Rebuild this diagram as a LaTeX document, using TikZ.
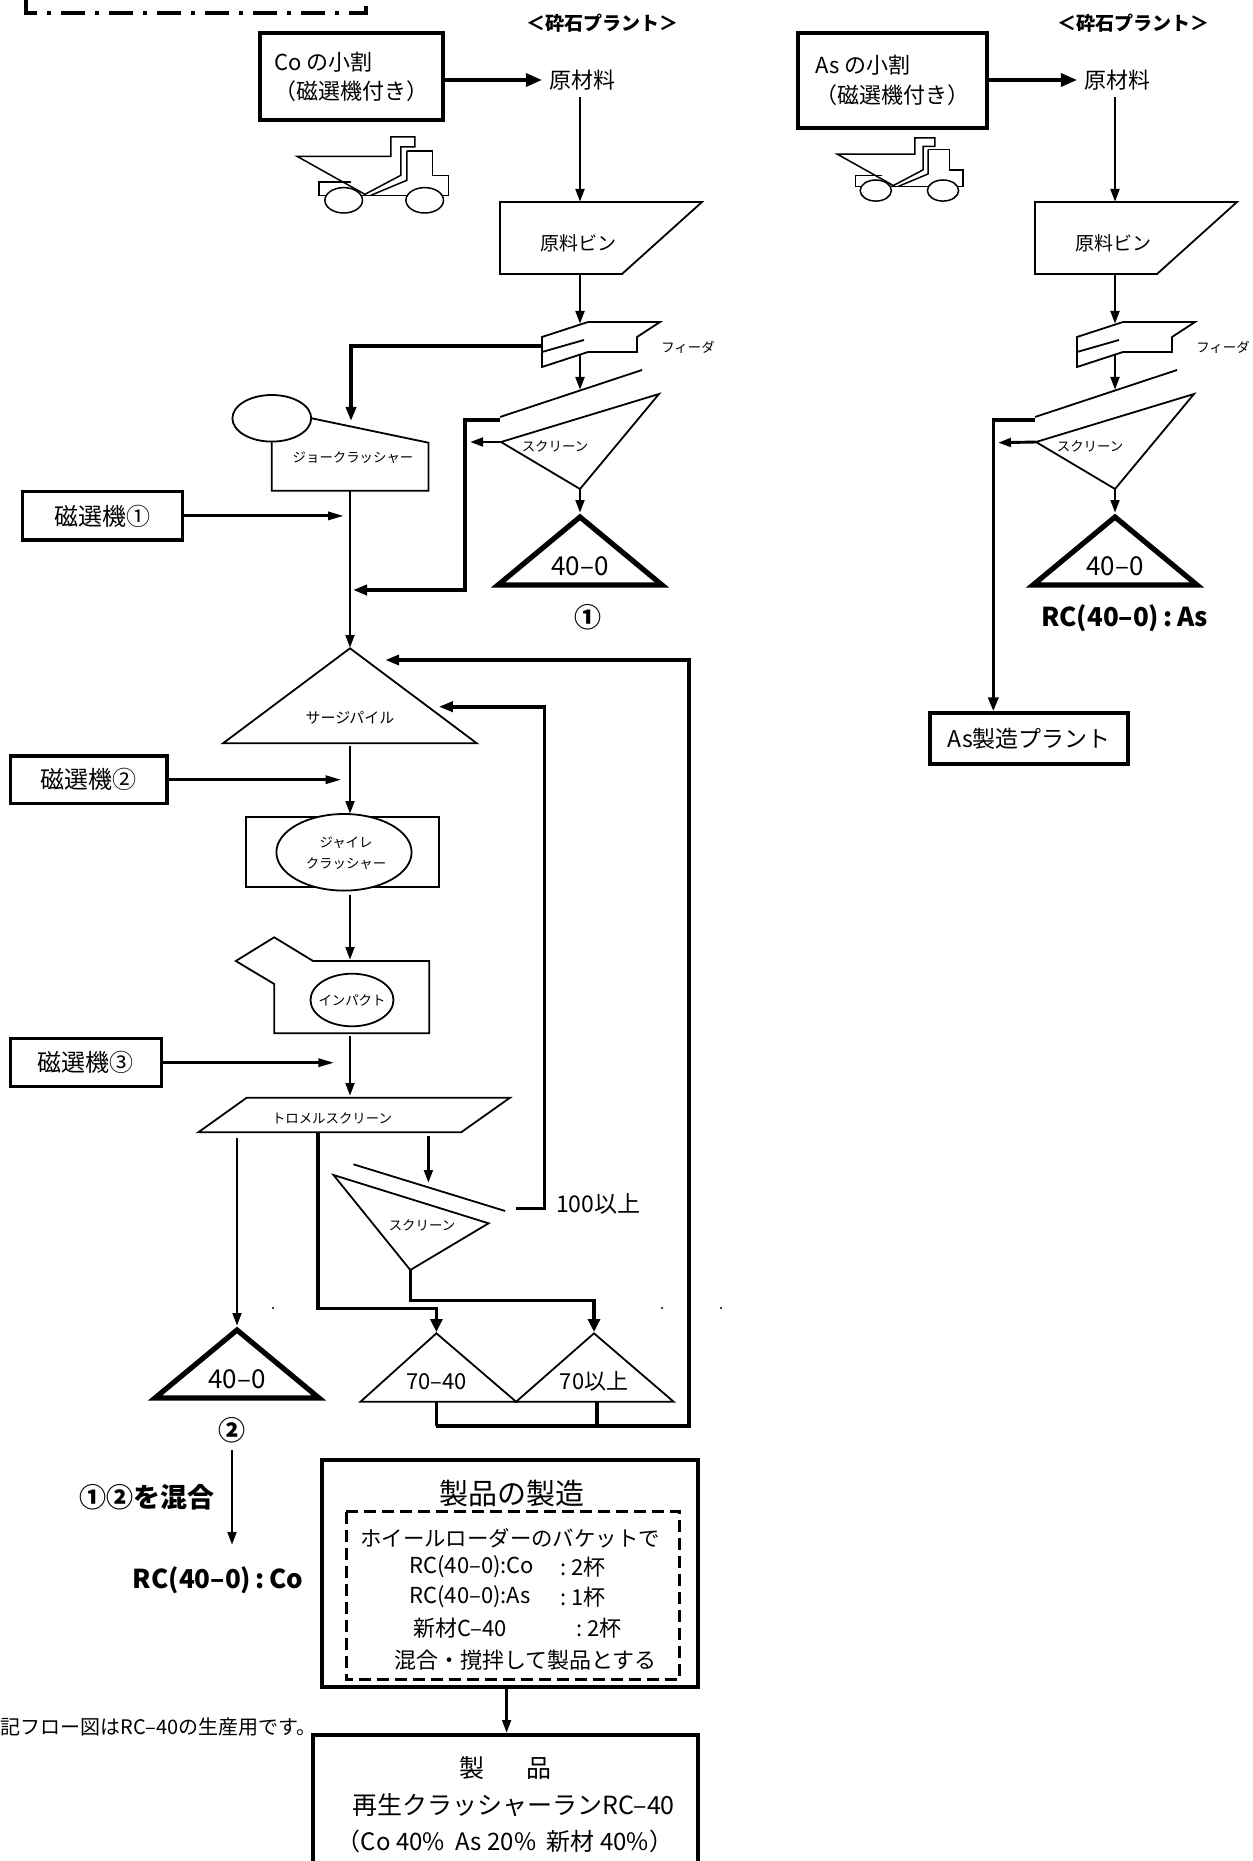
\documentclass[tikz,border=0pt]{standalone}
\usepackage{fontspec}
\setmainfont{Noto Sans CJK JP}
\usetikzlibrary{arrows.meta,positioning}

\newcommand{\fz}[1]{\fontsize{#1}{#1}\selectfont}

\tikzset{
  shp/.style={line width=0.9pt},
  flow/.style={line width=1.45pt,-{Triangle[length=6.5pt,width=4.3pt]}},
  wideflow/.style={line width=1.6pt,-{Triangle[length=6.5pt,width=6pt]}},
  heavy/.style={line width=1.8pt,-{Triangle[length=7pt,width=5pt]}},
  magflow/.style={line width=1.5pt,-{Triangle[length=8pt,width=4pt]}},
  bigflow/.style={line width=1.6pt,-{Triangle[length=8pt,width=6.5pt]}},
  fatline/.style={line width=1.8pt},
  fatbox/.style={draw,line width=2pt,inner sep=0pt},
  magbox/.style={draw,line width=1.6pt,font=\fz{12}},
  tag/.style={font=\fz{6.7},inner sep=0pt},
  rawbin/.pic={
    \draw[shp] (-80,0) -- (122,0) -- (42,72) -- (-80,72) -- cycle;
    \node[font=\fz{9.5}] (-lbl) at (-2,41) {原料ビン};
    \coordinate (-in) at (0,0);
    \coordinate (-out) at (0,72);
  },
  feeder/.pic={
    \draw[shp] (-38,15) -- (8,0) -- (80,0) -- (57,15) -- (57,30) -- (8,30) -- (-38,45) -- cycle;
    \draw[shp] (-38,30) -- (4,18);
    \node[tag] (-lbl) at (108,25) {フィーダ};
    \coordinate (-in) at (0,2);
    \coordinate (-out) at (0,33);
    \coordinate (-side) at (-38,24);
  },
  screen/.pic={
    \draw[shp] (-80,47) -- (62,0);
    \draw[shp] (-79,72) -- (79,24) -- (0,119) -- cycle;
    \node[tag] (-lbl) at (-25,76) {スクリーン};
    \coordinate (-in) at (0,20);
    \coordinate (-over) at (-80,50);
    \coordinate (-left) at (-79,72);
    \coordinate (-out) at (0,119);
  },
  pile/.pic={
    \draw[line width=2.6pt] (0,0) -- (82,68) -- (-82,68) -- cycle;
    \node[font=\fz{13}] (-lbl) at (0,49) {40–0};
    \coordinate (-top) at (0,-4);
  },
  truck/.pic={
    \draw[line width=0.75pt] (0,19.3) -- (93.8,19.3) -- (93.8,0) -- (117.8,0) -- (117.8,10) -- (103.8,10) -- (103.8,38.3) -- (67.9,57.3) -- cycle;
    \draw[line width=0.75pt] (109.8,14) -- (135.7,14) -- (135.7,38.3) -- (151.7,38.3) -- (151.7,58.3) -- (22,58.3) -- (22,45) -- (53.9,45);
    \draw[line width=0.75pt] (109.8,14) -- (109.8,43.3) -- (73.9,58.3);
    \draw[line width=0.75pt,fill=white] (46.7,63.3) ellipse [x radius=18.8,y radius=12.7];
    \draw[line width=0.75pt,fill=white] (127.7,63.3) ellipse [x radius=18.8,y radius=12.7];
  },
}

\begin{document}
\begin{tikzpicture}[x=0.5pt,y=-0.5pt]
  \useasboundingbox (0,0) rectangle (1252,1861);

  \draw[line width=2pt,dash pattern=on 12pt off 5pt on 2pt off 5pt] (26,0) -- (26,13) -- (366,13) -- (366,0);
  \node[font=\bfseries\fz{9.5}] (hdrC) at (602,23) {＜砕石プラント＞};
  \node[font=\bfseries\fz{9.5}] (hdrA) at (1133,23) {＜砕石プラント＞};

  \node[fatbox,minimum width=91.75pt,minimum height=43.5pt,align=left,font=\fontsize{11}{14.5}\selectfont] (coBox) at (351.25,76.5) {Co の小割\\（磁選機付き）};
  \pic at (297,137) {truck};
  \node[font=\fz{11}] (rawC) at (582,80) {原材料};
  \draw[bigflow] (coBox.east |- rawC) -- (rawC.west);

  \pic (binC) at (580,202) {rawbin};
  \pic (feedC) at (580,322) {feeder};
  \pic (scrC) at (580,370) {screen};
  \pic (pileC) at (580,517) {pile};
  \node[font=\bfseries\fz{13.5}] (no1) at (588,617) {①};
  \draw[flow] (rawC.south -| binC-in) -- (binC-in);
  \draw[flow] (binC-out) -- (feedC-in);
  \draw[flow] (feedC-out) -- (scrC-in);
  \draw[flow] (scrC-out) -- (pileC-top);

  \draw[shp] (271.8,418.3) ellipse [x radius=39.4,y radius=23.3];
  \draw[shp] (311.7,418.3) -- (428.4,442.7) -- (428.4,490.7) -- (271.8,490.7) -- (271.8,441.7);
  \node[tag] (jaw) at (353,458) {ジョークラッシャー};
  \coordinate (jawIn) at (351,421);
  \coordinate (jawOut) at (350,491);
  \draw[heavy] (feedC-side) -| (jawIn);

  \coordinate (scrCjoin) at (465,590);
  \coordinate (mainC) at (353,590);
  \coordinate (scrCret) at (470,442);
  \draw[heavy] (scrC-over) -| (scrCjoin) -- (mainC);
  \draw[flow] (scrC-left) -- (scrCret);

  \node[magbox,minimum width=79.9pt,minimum height=24.15pt] (mag1) at (102.7,515.9) {磁選機①};
  \coordinate (mag1to) at (344,515.9);
  \draw[magflow] (mag1) -- (mag1to);

  \draw[shp] (350,648.3) -- (476.8,743.3) -- (223,743.3) -- cycle;
  \node[font=\fz{7.5}] (surge) at (350,718) {サージパイル};
  \coordinate (surgeTop) at (350,648);
  \coordinate (surgeBot) at (350,746);
  \draw[flow] (jawOut) -- (surgeTop);

  \node[magbox,minimum width=78.3pt,minimum height=23.65pt] (mag2) at (88.7,779.7) {磁選機②};
  \coordinate (mag2to) at (341.6,779.7);
  \draw[magflow] (mag2) -- (mag2to);

  \draw[shp] (245.7,816.7) rectangle (438.8,887.3);
  \draw[shp,fill=white] (344,852.3) ellipse [x radius=67.6,y radius=38.3];
  \node[tag,align=center,font=\fontsize{6.7}{10.3}\selectfont] (gyr) at (346,853) {ジャイレ\\クラッシャー};
  \coordinate (gyrIn) at (350,814);
  \coordinate (gyrOut) at (350,895);
  \draw[flow] (surgeBot) -- (gyrIn);

  \draw[shp] (274.2,937.3) -- (235.8,961) -- (274.2,984) -- (274.2,1033.3) -- (429.3,1033.3) -- (429.3,961) -- (313.1,961) -- cycle;
  \draw[shp] (352,1000) ellipse [x radius=41.5,y radius=26.3];
  \node[tag] (imp) at (352,1000) {インパクト};
  \coordinate (impIn) at (350,960);
  \coordinate (impOut) at (350,1036);
  \draw[flow] (gyrOut) -- (impIn);

  \node[magbox,minimum width=75.45pt,minimum height=24pt] (mag3) at (85.9,1062.7) {磁選機③};
  \coordinate (mag3to) at (334.4,1062.7);
  \draw[magflow] (mag3) -- (mag3to);

  \draw[shp] (198.3,1132.3) -- (246.7,1097.7) -- (510,1097.7) -- (461.1,1132.3) -- cycle;
  \node[tag] (trom) at (332,1118) {トロメルスクリーン};
  \coordinate (tromIn) at (350,1096);
  \draw[flow] (impOut) -- (tromIn);

  \coordinate (tromL1) at (237,1138);
  \coordinate (tromL2) at (318,1132.3);
  \coordinate (tromL3) at (428.4,1136);
  \coordinate (scr2In) at (428.4,1183);
  \pic (pileB) at (237,1330) {pile};
  \draw[flow] (tromL1) -- (pileB-top);
  \draw[flow] (tromL3) -- (scr2In);

  \draw[shp] (353.4,1164.3) -- (505.2,1211);
  \draw[shp] (333.5,1175) -- (488.6,1223.3) -- (410.3,1270) -- cycle;
  \node[tag] (scr2) at (422,1225) {スクリーン};
  \coordinate (scr2Out) at (410.3,1270);
  \coordinate (scr2Over) at (516,1208.3);
  \coordinate (ret100) at (544.6,1208.3);
  \coordinate (surgeIn2) at (438.8,706.7);
  \draw[heavy] (scr2Over) -- (ret100) |- (surgeIn2);
  \node[anchor=west,font=\fz{11.5}] (lbl100) at (549,1204) {100以上};

  \draw[shp] (436.4,1333.3) -- (516.1,1401.7) -- (360.5,1401.7) -- cycle;
  \draw[shp] (594,1333.3) -- (673.6,1401.7) -- (516.1,1401.7) -- cycle;
  \node[font=\fz{11}] (t7040) at (436.4,1381.7) {70–40};
  \node[font=\fz{11}] (t70) at (594,1381.7) {70以上};
  \coordinate (t7040top) at (436.4,1332);
  \coordinate (t70top) at (594,1332);
  \coordinate (jn7040) at (436.4,1308.3);
  \coordinate (jn70) at (594,1300.7);
  \draw[wideflow] (tromL2) |- (jn7040) -- (t7040top);
  \draw[wideflow] (scr2Out) |- (jn70) -- (t70top);

  \coordinate (c7040) at (436.4,1401.7);
  \coordinate (c70) at (596.8,1401.7);
  \coordinate (cl7040) at (436.4,1425.7);
  \coordinate (cl70) at (596.8,1425.7);
  \coordinate (retEdge) at (688.8,1425.7);
  \coordinate (surgeIn1) at (385.2,660);
  \draw[fatline] (c7040) -- (cl7040);
  \draw[fatline] (c70) -- (cl70);
  \draw[heavy] (cl7040) -- (retEdge) |- (surgeIn1);

  \fill (273,1308) circle [radius=1.2];
  \fill (662,1308) circle [radius=1.2];
  \fill (721,1308) circle [radius=1.2];

  \node[font=\bfseries\fz{13.5}] (no2) at (232,1430) {②};
  \coordinate (mixTo) at (232,1545);
  \draw[flow] (no2) -- (mixTo);
  \node[font=\bfseries\fz{13.5}] (mix) at (147,1497) {①②を混合};
  \node[font=\bfseries\fz{13}] (rcCo) at (218,1580) {RC(40–0)\,:\,Co};

  \node[fatbox,minimum width=188.35pt,minimum height=113.65pt] (makeBox) at (510,1573.7) {};
  \draw[line width=1.5pt,dash pattern=on 6pt off 3pt] (346.3,1511.7) rectangle (679.3,1679.3);
  \node[font=\fz{14.5}] (makeTtl) at (512.3,1493.3) {製品の製造};
  \node[font=\fz{10.7}] (mk1) at (510,1538.3) {ホイールローダーのバケットで};
  \node[font=\fz{11},anchor=west,inner sep=0pt] (mk2a) at (409,1566.7) {RC(40–0):Co};
  \node[font=\fz{11},anchor=west,inner sep=0pt] (mk2b) at (560,1566.7) {:\ 2杯};
  \node[font=\fz{11},anchor=west,inner sep=0pt] (mk3a) at (409,1596.7) {RC(40–0):As};
  \node[font=\fz{11},anchor=west,inner sep=0pt] (mk3b) at (560,1596.7) {:\ 1杯};
  \node[font=\fz{11},anchor=west,inner sep=0pt] (mk4a) at (412.7,1628.3) {新材C–40};
  \node[font=\fz{11},anchor=west,inner sep=0pt] (mk4b) at (576,1628.3) {:\ 2杯};
  \node[font=\fz{11}] (mk5) at (525.6,1660) {混合・撹拌して製品とする};

  \node[fatbox,minimum width=192.65pt,minimum height=82.5pt] (prodBox) at (505.65,1817.5) {};
  \node[font=\fz{12.5}] (pr1) at (505,1768.3) {製\hspace{21pt}品};
  \node[font=\fz{12.5}] (pr2) at (513.6,1805) {再生クラッシャーランRC–40};
  \node[font=\fz{12}] (pr3) at (505,1841.7) {（Co 40\%\ \ As 20\%\ \ 新材 40\%）};
  \coordinate (prodIn) at (506.6,1733);
  \draw[flow] (prodIn |- makeBox.south) -- (prodIn);

  \node[anchor=west,font=\fz{10},inner sep=0pt] (note) at (0,1727) {記フロー図はRC–40の生産用です。};

  \node[fatbox,minimum width=94.5pt,minimum height=47.5pt,align=left,font=\fontsize{11}{15}\selectfont] (asBox) at (892.5,80.5) {As の小割\\（磁選機付き）};
  \pic[scale=0.83] at (837,138) {truck};
  \node[font=\fz{11}] (rawA) at (1117,80) {原材料};
  \draw[bigflow] (asBox.east |- rawA) -- (rawA.west);

  \pic (binA) at (1115,202) {rawbin};
  \pic (feedA) at (1115,322) {feeder};
  \pic (scrA) at (1115,370) {screen};
  \pic (pileA) at (1115,517) {pile};
  \node[font=\bfseries\fz{13}] (rcAs) at (1124.5,618) {RC(40–0)\,:\,As};
  \draw[flow] (rawA.south -| binA-in) -- (binA-in);
  \draw[flow] (binA-out) -- (feedA-in);
  \draw[flow] (feedA-out) -- (scrA-in);
  \draw[flow] (scrA-out) -- (pileA-top);

  \node[fatbox,minimum width=99.15pt,minimum height=25.35pt,font=\fz{11.5}] (asPlant) at (1029.2,738.7) {As製造プラント};
  \coordinate (scrAby) at (993.3,420.7);
  \coordinate (scrAret) at (998,442.7);
  \draw[heavy] (scrA-over) -| (scrAby |- asPlant.north);
  \draw[flow] (scrA-left) -- (scrAret);
\end{tikzpicture}
\end{document}
